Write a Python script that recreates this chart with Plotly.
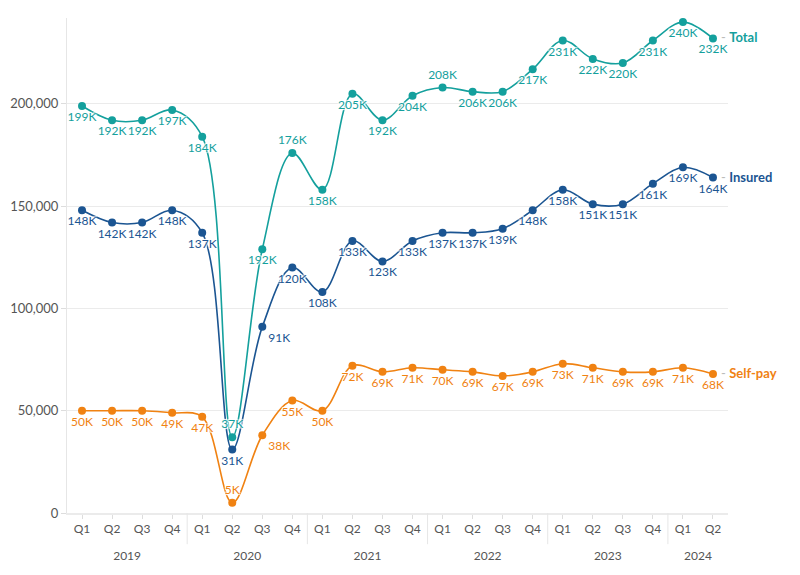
import plotly.graph_objects as go

years = ["2019"] * 4 + ["2020"] * 4 + ["2021"] * 4 + ["2022"] * 4 + ["2023"] * 4 + ["2024"] * 2
quarters = ["Q1", "Q2", "Q3", "Q4"] * 5 + ["Q1", "Q2"]

total = [199000, 192000, 192000, 197000, 184000, 37000, 129000, 176000, 158000, 205000, 192000,
         204000, 208000, 206000, 206000, 217000, 231000, 222000, 220000, 231000, 240000, 232000]
total_labels = ["199K", "192K", "192K", "197K", "184K", "37K", "192K", "176K", "158K", "205K", "192K",
                "204K", "208K", "206K", "206K", "217K", "231K", "222K", "220K", "231K", "240K", "232K"]

insured = [148000, 142000, 142000, 148000, 137000, 31000, 91000, 120000, 108000, 133000, 123000,
           133000, 137000, 137000, 139000, 148000, 158000, 151000, 151000, 161000, 169000, 164000]
insured_labels = ["148K", "142K", "142K", "148K", "137K", "31K", "91K", "120K", "108K", "133K", "123K",
                  "133K", "137K", "137K", "139K", "148K", "158K", "151K", "151K", "161K", "169K", "164K"]

selfpay = [50000, 50000, 50000, 49000, 47000, 5000, 38000, 55000, 50000, 72000, 69000,
           71000, 70000, 69000, 67000, 69000, 73000, 71000, 69000, 69000, 71000, 68000]
selfpay_labels = ["50K", "50K", "50K", "49K", "47K", "5K", "38K", "55K", "50K", "72K", "69K",
                  "71K", "70K", "69K", "67K", "69K", "73K", "71K", "69K", "69K", "71K", "68K"]

colors = {"Total": "#14a09d", "Insured": "#1b5592", "Self-pay": "#f08212"}

total_pos = ["bottom center"] * 22
total_pos[5] = "top center"
total_pos[7] = "top center"
total_pos[12] = "top center"
insured_pos = ["bottom center"] * 22
insured_pos[6] = "bottom right"
selfpay_pos = ["bottom center"] * 22
selfpay_pos[5] = "top center"
selfpay_pos[6] = "bottom right"

FONT = "Lato"
halo = "1px 1px 1px #fff, -1px -1px 1px #fff, 1px -1px 1px #fff, -1px 1px 1px #fff"

# category keys for each quarter
x_keys = [f"{y} {q}" for y, q in zip(years, quarters)]

# year groups: centers and boundaries (in category index units)
year_names, year_centers, boundaries = [], [], []
i = 0
while i < len(years):
    j = i
    while j < len(years) and years[j] == years[i]:
        j += 1
    year_names.append(years[i])
    year_centers.append((i + j - 1) / 2)
    if j < len(years):
        boundaries.append(j - 0.5)
    i = j

fig = go.Figure()
annotations = []
for vals, labels, pos, name in [
    (selfpay, selfpay_labels, selfpay_pos, "Self-pay"),
    (insured, insured_labels, insured_pos, "Insured"),
    (total, total_labels, total_pos, "Total"),
]:
    col = colors[name]
    fig.add_trace(go.Scatter(
        x=x_keys, y=vals, name=name,
        mode="lines+markers+text",
        line=dict(color=col, width=1.6, shape="spline", smoothing=1),
        marker=dict(color=col, size=8),
        text=labels, textposition=pos,
        textfont=dict(color=col, size=12, family=FONT, shadow=halo),
        cliponaxis=False, showlegend=False,
    ))
    annotations.append(dict(
        x=x_keys[-1], y=vals[-1], xref="x", yref="y",
        text="<span style='color:#bbbbbb'>-</span>&nbsp;<b>%s</b>" % name,
        showarrow=False, xanchor="left", yanchor="middle",
        xshift=6, yshift=1,
        font=dict(color=col, size=13, family=FONT),
    ))

# invisible trace to activate the year axis
fig.add_trace(go.Scatter(x=year_centers, y=[None] * len(year_centers), xaxis="x2",
                         mode="markers", showlegend=False, hoverinfo="skip"))

shapes = [dict(type="line", xref="x2", yref="paper", x0=b, x1=b, y0=0, y1=-0.063,
               line=dict(color="#e6e6e6", width=1)) for b in boundaries]

fig.update_layout(
    width=800, height=575,
    margin=dict(l=59, r=80, t=10, b=70, autoexpand=False),
    paper_bgcolor="white", plot_bgcolor="white",
    font=dict(family=FONT, color="#555555"),
    shapes=shapes,
    annotations=annotations,
    xaxis=dict(
        type="category", categoryorder="array", categoryarray=x_keys,
        range=[-0.5, len(x_keys) - 0.5],
        tickvals=x_keys, ticktext=quarters,
        showline=True, linecolor="#ebebeb", linewidth=2,
        ticks="outside", ticklen=4, tickcolor="#dddddd",
        tickfont=dict(size=12, color="#555555", family=FONT),
        showgrid=False, zeroline=False, automargin=False,
    ),
    xaxis2=dict(
        overlaying="x", anchor="y", side="bottom",
        range=[-0.5, len(x_keys) - 0.5],
        tickvals=year_centers, ticktext=year_names,
        ticks="", showline=False, showgrid=False, zeroline=False,
        ticklabelstandoff=34,
        tickfont=dict(size=12, color="#555555", family=FONT),
        automargin=False,
    ),
    yaxis=dict(
        range=[0, 242000], tickvals=[0, 50000, 100000, 150000, 200000],
        tickformat=",d", showgrid=True, gridcolor="#ebebeb", gridwidth=1,
        showline=True, linecolor="#e6e6e6", linewidth=1,
        ticks="outside", ticklen=5, tickcolor="#dddddd",
        tickfont=dict(size=13, color="#555555", family=FONT), zeroline=False,
        automargin=False,
    ),
)

fig.write_html("out.html")
